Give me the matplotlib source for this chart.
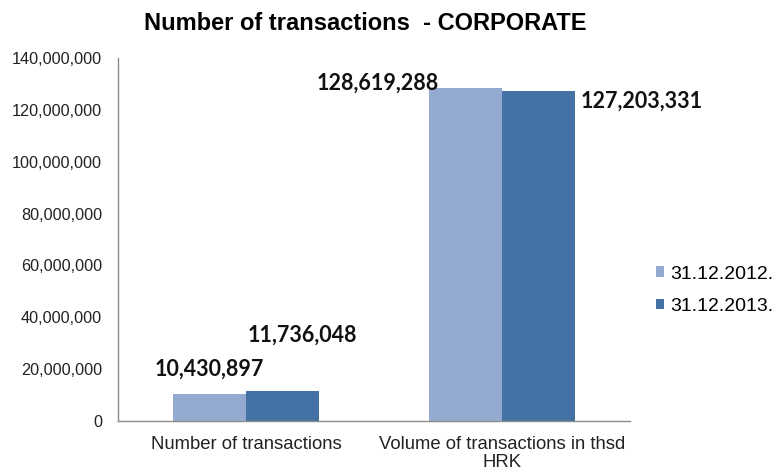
import matplotlib.pyplot as plt
import numpy as np
from matplotlib.ticker import FuncFormatter

categories = ['Number of transactions', 'Volume of transactions in thsd\nHRK']
series_names = ['31.12.2012.', '31.12.2013.']
values_2012 = [10430897, 128619288]
values_2013 = [11736048, 127203331]

colors = ['#95AAD1', '#4472A4']

fig = plt.figure(figsize=(7.84, 4.70), dpi=100)
ax = fig.add_axes([0.1505, 0.1043, 0.653, 0.7723])

x = np.arange(len(categories))
w = 0.285
b1 = ax.bar(x - w / 2, values_2012, w, color=colors[0], label=series_names[0])
b2 = ax.bar(x + w / 2, values_2013, w, color=colors[1], label=series_names[1])

ax.set_xlim(-0.5, 1.5)
ax.set_ylim(0, 140000000)
ax.set_yticks(np.arange(0, 140000001, 20000000))
ax.yaxis.set_major_formatter(FuncFormatter(lambda v, p: f'{int(v):,}'))
ax.set_xticks(x)
ax.set_xticklabels(categories, fontsize=13.3, family='Liberation Sans', color='#222222',
                   linespacing=1.05)
for t in ax.get_yticklabels():
    t.set_fontsize(11.7)
    t.set_family('Liberation Sans')
    t.set_color('#222222')
ax.tick_params(axis='y', length=0, pad=11.5)
ax.tick_params(axis='x', length=0, pad=11)

for s in ['top', 'right']:
    ax.spines[s].set_visible(False)
for s in ['left', 'bottom']:
    ax.spines[s].set_color('#8c8c8c')
    ax.spines[s].set_linewidth(1)

# etichette valori (posizioni come nell'originale)
offsets = [[(0, 10), (14, 32)], [(-63, 3), (74, -7)]]
lab_font = dict(fontsize=15.5, fontweight='bold', family='Lato', color='#111111')
for i in range(len(categories)):
    for j, (bars, vals) in enumerate([(b1, values_2012), (b2, values_2013)]):
        r = bars[i]
        dx, dy = offsets[i][j]
        va = 'bottom' if i == 0 else 'center'
        ax.annotate(f'{vals[i]:,}', (r.get_x() + r.get_width() / 2, r.get_height()),
                    xytext=(dx, dy), textcoords='offset points', ha='center', va=va,
                    annotation_clip=False, **lab_font)

fig.text(0.466, 0.951, 'Number of transactions  - CORPORATE', ha='center', va='center',
         fontsize=17, fontweight='bold', family='Liberation Sans')

leg = ax.legend(loc='center left', bbox_to_anchor=(1.016, 0.36), frameon=False,
                prop={'family': 'Liberation Sans', 'size': 14},
                handlelength=0.45, handleheight=0.45, handletextpad=0.3, labelspacing=0.8)

fig.savefig('out.png', dpi=100)
